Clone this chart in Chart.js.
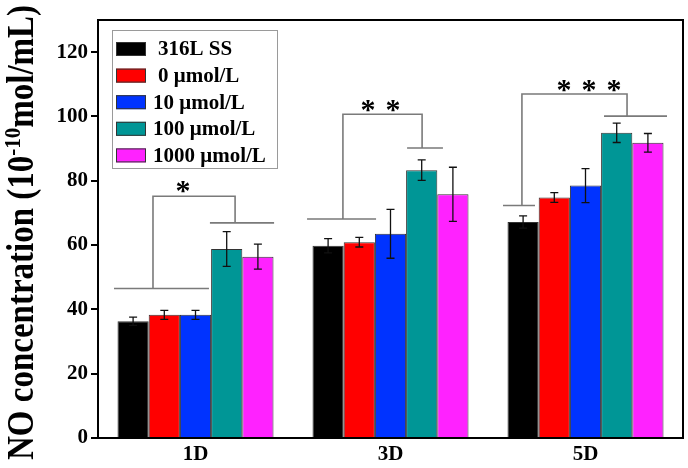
<!DOCTYPE html>
<html>
<head>
<meta charset="utf-8">
<script src="https://cdn.jsdelivr.net/npm/chart.js@4/dist/chart.umd.min.js"></script>
<style>
  html, body { margin: 0; padding: 0; background: #fff; }
  #wrap { width: 688px; height: 468px; }
</style>
</head>
<body>
<div id="wrap"><canvas id="noChart"></canvas></div>
<script>
// categories and series
const days = ['1D', '3D', '5D'];
const groups = ['316L SS', '0 μmol/L', '10 μmol/L', '100 μmol/L', '1000 μmol/L'];
const ss316 = [36.3, 59.8, 67.2];
const conc0 = [38.3, 60.9, 74.8];
const conc10 = [38.3, 63.5, 78.5];
const conc100 = [58.8, 83.3, 94.9];
const conc1000 = [56.4, 75.8, 91.8];
// error bars (+/-)
const ss316Err = [1.3, 2.2, 1.9];
const conc0Err = [1.4, 1.5, 1.5];
const conc10Err = [1.4, 7.6, 5.3];
const conc100Err = [5.4, 3.2, 3.0];
const conc1000Err = [3.9, 8.4, 2.9];
const yTicks = [0, 20, 40, 60, 80, 100, 120];
// significance brackets, in y-axis units
const lowLevel = [46.5, 68.1, 72.3];
const highLevel = [66.9, 90.2, 100.1];
const topLevel = [75.2, 100.7, 107.0];
const starLevel = [78.3, 103.5, 109.7];
const starCount = [1, 2, 3];

const colors = ['#000000', '#ff0000', '#0033ff', '#009696', '#ff22ff'];
const series = [ss316, conc0, conc10, conc100, conc1000];
const errors = [ss316Err, conc0Err, conc10Err, conc100Err, conc1000Err];
const serif = "'Liberation Serif', 'Times New Roman', serif";

// bracket geometry as fractions of a category width (from group centre)
const bracketShape = [
    { low: [-0.418, 0.069], stem: -0.218, high: [0.074, 0.403], drop: 0.203, star: -0.064 },
    { low: [-0.428, -0.074], stem: -0.244, high: [0.085, 0.269], drop: 0.162, star: -0.051 },
    { low: [-0.423, -0.259], stem: -0.326, high: [0.095, 0.418], drop: 0.213, star: 0.018 }
];

const errorBars = {
    id: 'errorBars',
    afterDatasetsDraw(chart) {
        const ctx = chart.ctx;
        const y = chart.scales.y;
        ctx.save();
        ctx.strokeStyle = '#111';
        ctx.lineWidth = 1.3;
        series.forEach((d, i) => {
            chart.getDatasetMeta(i).data.forEach((bar, j) => {
                const top = y.getPixelForValue(d[j] + errors[i][j]);
                const bot = y.getPixelForValue(d[j] - errors[i][j]);
                ctx.beginPath();
                ctx.moveTo(bar.x, top); ctx.lineTo(bar.x, bot);
                ctx.moveTo(bar.x - 4, top); ctx.lineTo(bar.x + 4, top);
                ctx.moveTo(bar.x - 4, bot); ctx.lineTo(bar.x + 4, bot);
                ctx.stroke();
            });
        });
        ctx.restore();
    }
};

const brackets = {
    id: 'brackets',
    afterDatasetsDraw(chart) {
        const ctx = chart.ctx;
        const x = chart.scales.x, y = chart.scales.y;
        const cw = x.width / days.length;
        ctx.save();
        ctx.strokeStyle = '#7a7a7a';
        ctx.lineWidth = 1.6;
        days.forEach((d, i) => {
            const c = x.getPixelForValue(i);
            const b = bracketShape[i];
            const yl = y.getPixelForValue(lowLevel[i]);
            const yh = y.getPixelForValue(highLevel[i]);
            const yt = y.getPixelForValue(topLevel[i]);
            ctx.beginPath();
            ctx.moveTo(c + b.low[0] * cw, yl); ctx.lineTo(c + b.low[1] * cw, yl);
            ctx.moveTo(c + b.stem * cw, yl); ctx.lineTo(c + b.stem * cw, yt);
            ctx.lineTo(c + b.drop * cw, yt); ctx.lineTo(c + b.drop * cw, yh);
            ctx.moveTo(c + b.high[0] * cw, yh); ctx.lineTo(c + b.high[1] * cw, yh);
            ctx.stroke();
            // stars
            ctx.fillStyle = '#000';
            ctx.font = 'bold 30px ' + serif;
            ctx.textAlign = 'center';
            ctx.textBaseline = 'alphabetic';
            const ys = y.getPixelForValue(starLevel[i]);
            const n = starCount[i];
            for (let k = 0; k < n; k++) {
                const sx = c + b.star * cw + (k - (n - 1) / 2) * 25;
                ctx.fillText('*', sx, ys + 14);
            }
        });
        ctx.restore();
    }
};

const frameAndText = {
    id: 'frameAndText',
    afterDraw(chart) {
        const ctx = chart.ctx;
        const a = chart.chartArea;
        ctx.save();
        // plot frame
        ctx.strokeStyle = '#000';
        ctx.lineWidth = 2;
        ctx.strokeRect(a.left, a.top, a.right - a.left, a.bottom - a.top);

        // legend box
        const lx = a.left + 14, ly = a.top + 10;
        ctx.lineWidth = 1;
        ctx.strokeStyle = '#9a9a9a';
        ctx.strokeRect(lx + 0.5, ly + 0.5, 165, 138);
        ctx.font = 'bold 21px ' + serif;
        ctx.textBaseline = 'middle';
        ctx.textAlign = 'left';
        groups.forEach((g, i) => {
            const ry = ly + 19 + i * 26.6;
            ctx.fillStyle = colors[i];
            ctx.fillRect(lx + 4, ry - 7, 30, 14);
            ctx.strokeStyle = '#333';
            ctx.strokeRect(lx + 4.5, ry - 6.5, 29, 13);
            ctx.fillStyle = '#000';
            ctx.fillText(g, lx + (i < 2 ? 46 : 41), ry + 1);
        });

        // y axis title with superscript
        ctx.translate(33, 460);
        ctx.rotate(-Math.PI / 2);
        ctx.scale(1, 1.12);
        ctx.textBaseline = 'alphabetic';
        ctx.fillStyle = '#000';
        const big = 'bold 33px ' + serif, small = 'bold 21px ' + serif;
        let px = 0;
        ctx.font = big;
        ctx.fillText('NO concentration (10', px, 0);
        px += ctx.measureText('NO concentration (10').width;
        ctx.font = small;
        ctx.fillText('-10', px, -12);
        px += ctx.measureText('-10').width;
        ctx.font = big;
        ctx.fillText('mol/mL)', px, 0);
        ctx.restore();
    }
};

const tickFont = { family: serif, size: 21, weight: 'bold' };

new Chart(document.getElementById('noChart').getContext('2d'), {
    type: 'bar',
    data: {
        labels: days,
        datasets: series.map((d, i) => ({
            label: groups[i],
            data: d,
            backgroundColor: colors[i],
            borderColor: '#333',
            borderWidth: 1,
            categoryPercentage: 0.8,
            barPercentage: 1.0
        }))
    },
    options: {
        responsive: true,
        maintainAspectRatio: false,
        animation: false,
        layout: { padding: { top: 20, right: 5, left: 0, bottom: 0 } },
        plugins: {
            legend: { display: false },
            tooltip: { enabled: false }
        },
        scales: {
            x: {
                grid: { display: false },
                border: { display: false },
                ticks: { font: tickFont, color: '#000', padding: -4 },
                afterFit(s) { s.height = 30; }
            },
            y: {
                min: 0,
                max: 130,
                border: { display: false },
                grid: { drawOnChartArea: false, tickLength: 7, color: '#000', lineWidth: 2 },
                ticks: { font: tickFont, color: '#000', padding: 3 },
                afterBuildTicks(s) { s.ticks = yTicks.map(v => ({ value: v })); },
                afterFit(s) { s.width = 98; }
            }
        }
    },
    plugins: [errorBars, brackets, frameAndText]
});
</script>
</body>
</html>
